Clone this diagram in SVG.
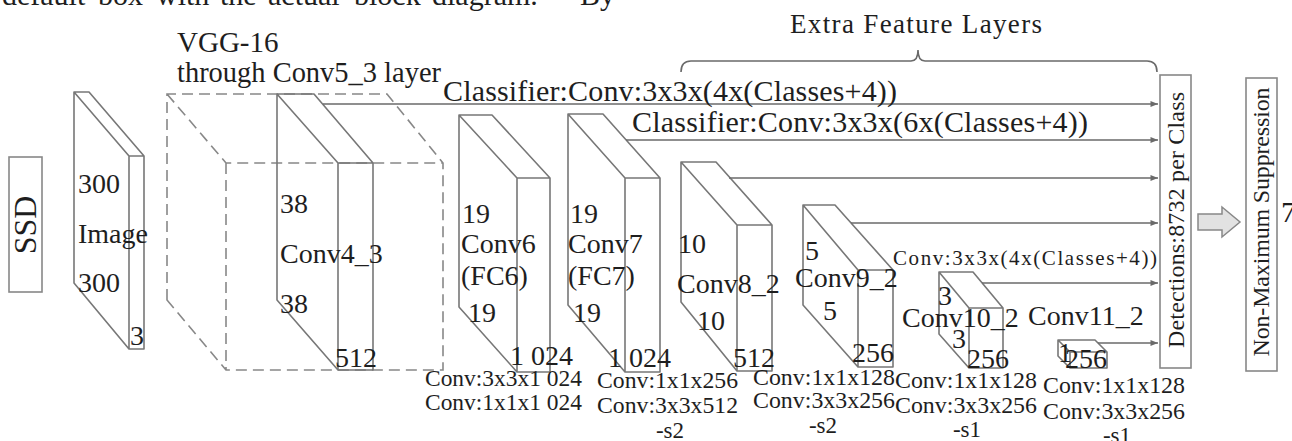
<svg xmlns="http://www.w3.org/2000/svg" width="1292" height="441" viewBox="0 0 1292 441">
<style>
text{font-family:"Liberation Serif","Times New Roman",serif;fill:#1e1e1e}
.t{font-size:28px}
.s{font-size:23px}
.slab{fill:none;stroke:#777;stroke-width:1.6;stroke-linejoin:round}
.dash{fill:none;stroke:#888;stroke-width:1.6;stroke-dasharray:11 6}
.box{fill:#fff;stroke:#888;stroke-width:1.6}
.con{fill:none;stroke:#6a6a6a;stroke-width:1.6}
</style>
<defs>
<marker id="ah" viewBox="0 0 10 8" refX="10" refY="4" markerWidth="8" markerHeight="6" markerUnits="userSpaceOnUse" orient="auto">
<path d="M0,0 L10,4 L0,8 Z" fill="#6a6a6a"/>
</marker>
</defs>
<text x="2" y="5" style="font-size:30px"><tspan x="2">default</tspan><tspan x="98">box</tspan><tspan x="156">with</tspan><tspan x="220">the</tspan><tspan x="268">actual</tspan><tspan x="354">block</tspan><tspan x="432">diagram.</tspan><tspan x="580">By</tspan></text>

<g id="ssd">
<rect class="box" x="9" y="157" width="33" height="135"/>
<text transform="translate(36,225) rotate(-90)" text-anchor="middle" style="font-size:32px">SSD</text>
</g>

<g id="image">
<path class="slab" d="M74,92 L89,92 L144,156 L144,349 L129,349 L74,283 Z M74,92 L129,156 L144,156 M129,156 L129,349"/>
<text class="t" x="78" y="193">300</text>
<text class="t" x="78" y="243">Image</text>
<text class="t" x="78" y="292">300</text>
<text class="t" x="130" y="345">3</text>
</g>

<g id="vgg">
<path class="dash" d="M167,300 L167,94 L387,94 L443,163 L443,370 L226,370 Z M167,94 L226,163 L443,163 M226,163 L226,370"/>
<text x="177" y="52" style="font-size:29px">VGG-16</text>
<text x="177" y="82" style="font-size:29px" textLength="264" lengthAdjust="spacingAndGlyphs">through Conv5_3 layer</text>
</g>

<g id="conv4_3">
<path class="slab" d="M277,94 L314,94 L373,163 L373,370 L338,370 L277,300 Z M277,94 L338,163 L373,163 M338,163 L338,370"/>
<text class="t" x="280" y="213">38</text>
<text class="t" x="280" y="263">Conv4_3</text>
<text class="t" x="280" y="313">38</text>
<text class="t" x="335" y="367">512</text>
</g>

<g id="conv6">
<path class="slab" d="M459,115 L492,115 L550,178 L550,372 L517,372 L459,307 Z M459,115 L517,178 L550,178 M517,178 L517,372"/>
<text class="t" x="462" y="223">19</text>
<text class="t" x="461" y="253">Conv6</text>
<text class="t" x="461" y="285">(FC6)</text>
<text class="t" x="468" y="322">19</text>
<text class="t" x="510" y="365">1 024</text>
<text class="s" x="425" y="386" textLength="157" lengthAdjust="spacingAndGlyphs">Conv:3x3x1 024</text>
<text class="s" x="425" y="410" textLength="157" lengthAdjust="spacingAndGlyphs">Conv:1x1x1 024</text>
</g>

<g id="conv7">
<path class="slab" d="M568,114 L603,114 L660,178 L660,372 L625,372 L568,305 Z M568,114 L625,178 L660,178 M625,178 L625,372"/>
<text class="t" x="570" y="223">19</text>
<text class="t" x="568" y="253">Conv7</text>
<text class="t" x="568" y="285">(FC7)</text>
<text class="t" x="573" y="322">19</text>
<text class="t" x="608" y="367">1 024</text>
<text class="s" x="597" y="388" textLength="141" lengthAdjust="spacingAndGlyphs">Conv:1x1x256</text>
<text class="s" x="597" y="413" textLength="141" lengthAdjust="spacingAndGlyphs">Conv:3x3x512</text>
<text class="s" x="670" y="438" text-anchor="middle">-s2</text>
</g>

<g id="conv8_2">
<path class="slab" d="M681,162 L716,162 L772,225 L772,371 L737,371 L681,302 Z M681,162 L737,225 L772,225 M737,225 L737,371"/>
<text class="t" x="678" y="253">10</text>
<text class="t" x="677" y="293">Conv8_2</text>
<text class="t" x="697" y="330">10</text>
<text class="t" x="733" y="367">512</text>
<text class="s" x="753" y="385" textLength="142" lengthAdjust="spacingAndGlyphs">Conv:1x1x128</text>
<text class="s" x="753" y="408" textLength="142" lengthAdjust="spacingAndGlyphs">Conv:3x3x256</text>
<text class="s" x="823" y="433" text-anchor="middle">-s2</text>
</g>

<g id="conv9_2">
<path class="slab" d="M803,205 L835,205 L893,270 L893,367 L858,367 L803,305 Z M803,205 L858,270 L893,270 M858,270 L858,367"/>
<text class="t" x="805" y="260">5</text>
<text class="t" x="795" y="287">Conv9_2</text>
<text class="t" x="823" y="320">5</text>
<text class="t" x="852" y="362">256</text>
<text class="s" x="895" y="388" textLength="142" lengthAdjust="spacingAndGlyphs">Conv:1x1x128</text>
<text class="s" x="895" y="413" textLength="142" lengthAdjust="spacingAndGlyphs">Conv:3x3x256</text>
<text class="s" x="967" y="437" text-anchor="middle">-s1</text>
</g>

<g id="conv10_2">
<path class="slab" d="M939,272 L973,272 L1003,308 L1003,368 L969,368 L939,334 Z M939,272 L969,308 L1003,308 M969,308 L969,368"/>
<text class="t" x="938" y="305">3</text>
<text class="t" x="902" y="327">Conv10_2</text>
<text class="t" x="952" y="348">3</text>
<text class="t" x="967" y="368">256</text>
<text class="s" x="1043" y="393" textLength="142" lengthAdjust="spacingAndGlyphs">Conv:1x1x128</text>
<text class="s" x="1043" y="419" textLength="142" lengthAdjust="spacingAndGlyphs">Conv:3x3x256</text>
<text class="s" x="1117" y="443" text-anchor="middle">-s1</text>
</g>

<g id="conv11_2">
<path class="slab" d="M1058,340 L1095,340 L1107,352 L1107,368 L1070,368 L1058,356 Z M1058,340 L1070,352 L1107,352 M1070,352 L1070,368"/>
<text class="t" x="1028" y="325">Conv11_2</text>
<text class="t" x="1058" y="362">1</text>
<text class="t" x="1065" y="368">256</text>
</g>

<g id="detections">
<rect class="box" x="1160" y="75" width="31" height="293"/>
<text transform="translate(1184,220) rotate(-90)" text-anchor="middle" style="font-size:24px" textLength="256" lengthAdjust="spacing">Detections:8732 per Class</text>
</g>

<g id="nms">
<rect class="box" x="1246" y="78" width="31" height="293"/>
<text transform="translate(1269,222) rotate(-90)" text-anchor="middle" style="font-size:24px" textLength="269" lengthAdjust="spacing">Non-Maximum Suppression</text>
</g>

<text x="1281" y="222" style="font-size:30px">7</text>

<g id="extra">
<path class="con" d="M681,72 Q681,61 691,61 L911,61 Q918,61 918,50 Q918,61 925,61 L1147,61 Q1157,61 1157,72"/>
<text x="790" y="33" style="font-size:27px" textLength="252" lengthAdjust="spacing">Extra Feature Layers</text>
</g>

<g id="connectors">
<path class="con" d="M323,104 L1158,104" marker-end="url(#ah)"/>
<path class="con" d="M626,140 L1158,140" marker-end="url(#ah)"/>
<path class="con" d="M729,178 L1158,178" marker-end="url(#ah)"/>
<path class="con" d="M851,223 L1158,223" marker-end="url(#ah)"/>
<path class="con" d="M982,283 L1158,283" marker-end="url(#ah)"/>
<path class="con" d="M1098,343 L1158,343" marker-end="url(#ah)"/>
<path d="M1198,214 L1222,214 L1222,207 L1240,222 L1222,237 L1222,230 L1198,230 Z" fill="#e2e2e2" stroke="#888" stroke-width="1.5"/>
<text x="443" y="101" style="font-size:30px" textLength="454" lengthAdjust="spacing">Classifier:Conv:3x3x(4x(Classes+4))</text>
<text x="632" y="132" style="font-size:30px" textLength="456" lengthAdjust="spacing">Classifier:Conv:3x3x(6x(Classes+4))</text>
<text x="893" y="265" style="font-size:21px" textLength="264" lengthAdjust="spacing">Conv:3x3x(4x(Classes+4))</text>
</g>
</svg>
